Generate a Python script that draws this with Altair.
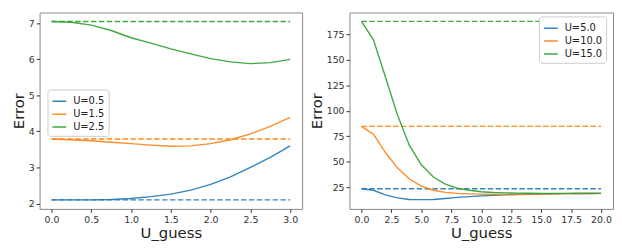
import altair as alt
import pandas as pd

# ---------------- data ----------------
left_x = [0.0, 0.25, 0.5, 0.75, 1.0, 1.25, 1.5, 1.75, 2.0, 2.25, 2.5, 2.75, 3.0]
left_u05 = [2.10, 2.10, 2.10, 2.11, 2.14, 2.19, 2.26, 2.37, 2.53, 2.74, 3.00, 3.28, 3.60]
left_u15 = [3.79, 3.77, 3.74, 3.70, 3.66, 3.62, 3.59, 3.60, 3.66, 3.77, 3.93, 4.14, 4.39]
left_u25 = [7.05, 7.03, 6.95, 6.80, 6.60, 6.45, 6.29, 6.15, 6.02, 5.93, 5.88, 5.91, 6.00]
left_labels = ["U=0.5", "U=1.5", "U=2.5"]
left_refs = [2.10, 3.79, 7.05]
left_xticks = [0.0, 0.5, 1.0, 1.5, 2.0, 2.5, 3.0]
left_yticks = [2, 3, 4, 5, 6, 7]

right_x = list(range(0, 21))
right_u5 = [23.5, 22.0, 17.5, 14.5, 13.0, 12.8, 13.0, 14.0, 15.0, 15.8, 16.5, 17.0,
            17.5, 17.8, 18.0, 18.3, 18.5, 18.7, 18.8, 18.9, 19.0]
right_u10 = [84.6, 77.0, 59.0, 44.0, 33.0, 26.0, 22.0, 20.0, 19.0, 18.5, 18.2, 18.0,
             18.0, 18.1, 18.2, 18.4, 18.5, 18.7, 18.8, 18.9, 19.0]
right_u15 = [187.5, 169.5, 133.0, 96.0, 66.0, 47.0, 35.0, 28.0, 24.0, 22.0, 20.5, 19.8,
             19.4, 19.2, 19.1, 19.0, 19.0, 19.0, 19.0, 19.0, 19.0]
right_labels = ["U=5.0", "U=10.0", "U=15.0"]
right_refs = [23.5, 84.6, 187.5]
right_xticks = [0.0, 2.5, 5.0, 7.5, 10.0, 12.5, 15.0, 17.5, 20.0]
right_yticks = [25, 50, 75, 100, 125, 150, 175]

colors = ["#1f77b4", "#ff7f0e", "#2ca02c"]
FONT = "DejaVu Sans"


def panel(xs, series, labels, refs, xdom, ydom, xticks, yticks, xfmt, yfmt,
          lx, ly, w, h):
    rows = []
    for lab, ys in zip(labels, series):
        for x, y in zip(xs, ys):
            rows.append({"x": x, "y": y, "U": lab})
    df = pd.DataFrame(rows)
    ref_df = pd.DataFrame({"U": labels, "y": refs,
                           "x0": [xs[0]] * len(labels), "x1": [xs[-1]] * len(labels)})
    cscale = alt.Scale(domain=labels, range=colors)
    legend = alt.Legend(orient="none", legendX=lx, legendY=ly,
                        title=None, symbolType="stroke",
                        symbolSize=196, symbolStrokeWidth=1.5,
                        symbolDash=[1, 0],
                        fillColor="white", strokeColor="#cccccc",
                        cornerRadius=3, padding=4,
                        labelFontSize=10, labelFont=FONT, labelOffset=6,
                        labelColor="#222222", rowPadding=0)
    xaxis = alt.Axis(values=xticks, format=xfmt, title="U_guess")
    yaxis = alt.Axis(values=yticks, format=yfmt, title="Error")
    xs_ = alt.Scale(domain=xdom, nice=False, zero=False)
    ys_ = alt.Scale(domain=ydom, nice=False, zero=False)
    lines = alt.Chart(df).mark_line(strokeWidth=1.4, opacity=0.9).encode(
        x=alt.X("x:Q", scale=xs_, axis=xaxis),
        y=alt.Y("y:Q", scale=ys_, axis=yaxis),
        color=alt.Color("U:N", scale=cscale, sort=labels, legend=legend),
    )
    rules = alt.Chart(ref_df).mark_rule(strokeWidth=1.4, opacity=0.9,
                                        strokeDash=[5.5, 2.5]).encode(
        x=alt.X("x0:Q", scale=xs_, axis=xaxis),
        x2="x1:Q",
        y=alt.Y("y:Q", scale=ys_, axis=yaxis),
        color=alt.Color("U:N", scale=cscale, sort=labels, legend=legend),
    )
    return alt.layer(rules, lines).properties(width=w, height=h)


left = panel(left_x, [left_u05, left_u15, left_u25], left_labels, left_refs,
             [-0.15, 3.15], [1.85, 7.3], left_xticks, left_yticks, ".1f", "d",
             8, 78, 266, 199)
right = panel(right_x, [right_u5, right_u10, right_u15], right_labels, right_refs,
              [-1, 21], [3.75, 196.25], right_xticks, right_yticks, ".1f", "d",
              192, 4, 267, 199)

chart = alt.hconcat(left, right, spacing=5).resolve_scale(
    color="independent", x="independent", y="independent"
).properties(
    padding={"left": 2, "top": 2, "right": 0, "bottom": 0}
).configure_view(
    stroke="#888888", strokeWidth=1
).configure_axis(
    domain=False, grid=False, tickColor="#333333", tickSize=3.5, tickWidth=1,
    labelColor="#333333", labelFont=FONT, labelFontSize=9.5, labelPadding=2,
    titleFont=FONT, titleFontSize=15, titleFontWeight="normal", titleColor="#222222",
    titlePadding=2
)

chart.save("out.html", embed_options={"renderer": "svg", "actions": False})
